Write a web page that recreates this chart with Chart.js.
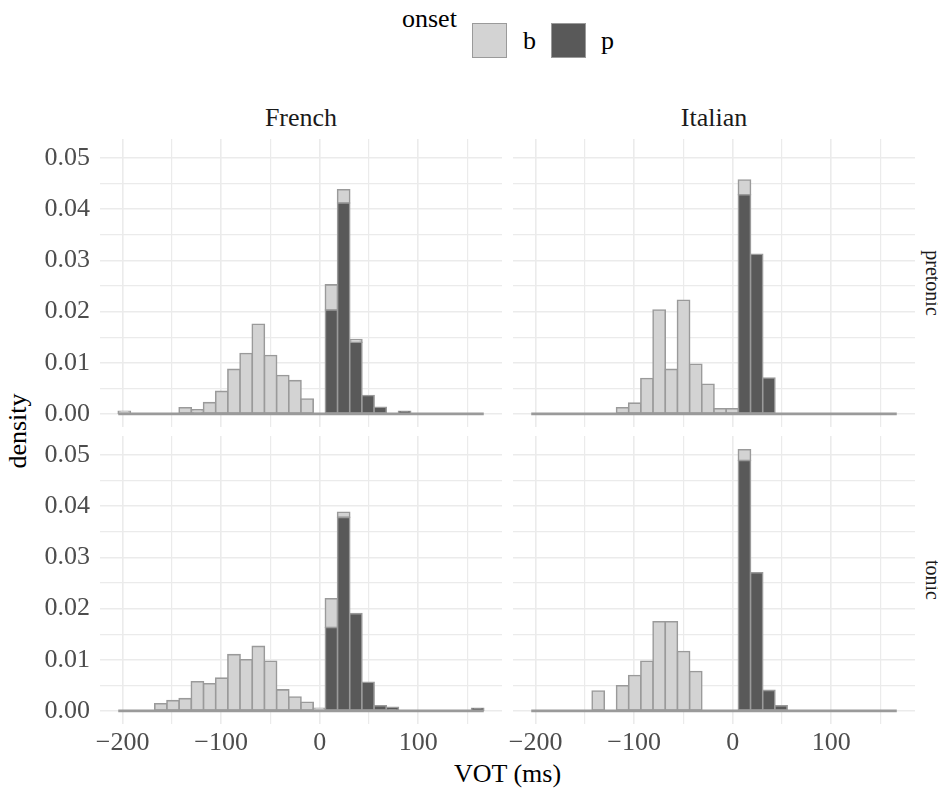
<!DOCTYPE html>
<html>
<head>
<meta charset="utf-8">
<script src="https://cdn.jsdelivr.net/npm/chart.js@4.4.1/dist/chart.umd.min.js"></script>
<style>
  body{margin:0;background:#fff;font-family:'Liberation Serif','Times New Roman',serif;}
  #wrap{position:relative;width:938px;height:795px;overflow:hidden;background:#fff;}
  canvas{position:absolute;}
  .t{position:absolute;font-size:26px;line-height:26px;white-space:nowrap;color:#1a1a1a;}
  .key{position:absolute;width:33px;height:33px;border:1.6px solid #9a9a9a;}
  .rot{position:absolute;white-space:nowrap;transform:translate(-50%,-50%) rotate(90deg);font-size:20px;line-height:20px;color:#1a1a1a;}
</style>
</head>
<body>
<div id="wrap">
  <div class="t" style="left:402px;top:6px;color:#000">onset</div>
  <div class="key" style="left:472px;top:23px;background:#D3D3D3"></div>
  <div class="t" style="left:523px;top:28px;color:#000">b</div>
  <div class="key" style="left:551px;top:23px;background:#595959"></div>
  <div class="t" style="left:601px;top:28px;color:#000">p</div>

  <div class="t" style="left:100px;top:105px;width:402px;text-align:center">French</div>
  <div class="t" style="left:513px;top:105px;width:402px;text-align:center">Italian</div>
  <div class="rot" style="left:933px;top:283px">pretonic</div>
  <div class="rot" style="left:933px;top:580px">tonic</div>
  <div class="t" style="left:18px;top:431px;transform:translate(-50%,-50%) rotate(-90deg);color:#000">density</div>
  <div class="t" style="left:100px;top:761px;width:815px;text-align:center;color:#000">VOT (ms)</div>

  <canvas id="frPre" width="472" height="288" style="left:30px;top:139px"></canvas>
  <canvas id="itPre" width="412" height="288" style="left:503px;top:139px"></canvas>
  <canvas id="frTon" width="472" height="338" style="left:30px;top:436px"></canvas>
  <canvas id="itTon" width="412" height="338" style="left:503px;top:436px"></canvas>
</div>
<script>
// histogram bins (30 bins, ms) and stacked densities
const binMids = [-198.32, -185.95, -173.58, -161.22, -148.85, -136.49, -124.12, -111.75, -99.39, -87.02,
  -74.65, -62.29, -49.92, -37.55, -25.19, -12.82, -0.46, 11.91, 24.28, 36.64,
  49.01, 61.37, 73.74, 86.11, 98.47, 110.84, 123.20, 135.57, 147.94, 160.30];
const binRange = [-204.5, 166.5];

const frPreB = [0.0005,0,0,0,0,0.0012,0.0008,0.0022,0.0044,0.0087,0.0118,0.0175,0.0114,0.0075,0.0065,0.0029,0,0.0049,0.0026,0.0005,0,0,0,0,0,0,0,0,0,0];
const frPreP = [0,0,0,0,0,0,0,0,0,0,0,0,0,0,0,0,0,0.0203,0.0412,0.0140,0.0036,0.0013,0,0.0005,0,0,0,0,0,0];
const itPreB = [0,0,0,0,0,0,0,0.0012,0.0021,0.0069,0.0203,0.0087,0.0222,0.0097,0.0058,0.0010,0.0010,0.0029,0,0,0,0,0,0,0,0,0,0,0,0];
const itPreP = [0,0,0,0,0,0,0,0,0,0,0,0,0,0,0,0,0,0.0428,0.0312,0.0070,0,0,0,0,0,0,0,0,0,0];
const frTonB = [0,0,0,0.0014,0.0020,0.0024,0.0057,0.0053,0.0064,0.0110,0.0100,0.0126,0.0097,0.0041,0.0027,0.0017,0.0005,0.0056,0.0010,0,0,0,0,0,0,0,0,0,0,0];
const frTonP = [0,0,0,0,0,0,0,0,0,0,0,0,0,0,0,0,0,0.0163,0.0378,0.0190,0.0056,0.0010,0.0007,0,0,0,0,0,0,0.0005];
const itTonB = [0,0,0,0,0,0.0039,0,0.0049,0.0069,0.0097,0.0174,0.0174,0.0116,0.0077,0,0,0,0.0021,0,0,0,0,0,0,0,0,0,0,0,0];
const itTonP = [0,0,0,0,0,0,0,0,0,0,0,0,0,0,0,0,0,0.0489,0.0270,0.0040,0.0010,0,0,0,0,0,0,0,0,0];

const xTicks = [-200, -150, -100, -50, 0, 50, 100, 150];
const xTickLabels = ['\u2212200', '', '\u2212100', '', '0', '', '100', ''];
const yTicks = [0, 0.005, 0.01, 0.015, 0.02, 0.025, 0.03, 0.035, 0.04, 0.045, 0.05];
const yTickLabels = ['0.00', '', '0.01', '', '0.02', '', '0.03', '', '0.04', '', '0.05'];

const edge = '#9a9a9a';
const gridCol = '#EBEBEB';

Chart.defaults.font.family = "'Liberation Serif', 'Times New Roman', serif";
Chart.defaults.font.size = 26;
Chart.defaults.color = '#4D4D4D';

function panel(id, bVals, pVals, showY, showX, yWidth, xHeight){
  const pts = vals => binMids.map((x, i) => ({x, y: vals[i]}));
  const bars = (label, vals, fill) => ({
    type:'bar', label, data: pts(vals),
    backgroundColor: c => (c.raw && c.raw.y === 0) ? edge : fill,
    borderColor: edge, borderWidth:1.6, borderSkipped:false, inflateAmount:0.8,
    barPercentage:1, categoryPercentage:1, grouped:false, order:1
  });
  new Chart(document.getElementById(id), {
    type:'bar',
    data:{datasets:[
      bars('p', pVals, '#595959'),
      bars('b', bVals, '#D3D3D3'),
      {type:'line', data: binRange.map(x => ({x, y:0})), borderColor: edge, borderWidth:2.6, pointRadius:0, fill:false, order:0}
    ]},
    options:{
      responsive:false, animation:false, devicePixelRatio:1,
      layout:{padding:0, autoPadding:false},
      plugins:{legend:{display:false}, tooltip:{enabled:false}},
      scales:{
        x:{
          type:'linear', min:-223, max:185, offset:false,
          grid:{color:gridCol, lineWidth: c => c.index % 2 ? 1.2 : 1.6, drawTicks:false, offset:false},
          border:{display:false},
          afterBuildTicks: s => { s.ticks = xTicks.map(v => ({value:v})); },
          ticks:{display:showX, autoSkip:false, maxRotation:0, padding:4, callback:(v, i) => xTickLabels[i]},
          afterFit: s => { s.height = xHeight; s.paddingLeft = 0; s.paddingRight = 0; }
        },
        y:{
          type:'linear', stacked:true, min:-0.00256, max:0.0537,
          grid:{color:gridCol, lineWidth: c => c.index % 2 ? 1.2 : 1.6, drawTicks:false},
          border:{display:false},
          afterBuildTicks: s => { s.ticks = yTicks.map(v => ({value:v})); },
          ticks:{display:showY, autoSkip:false, padding:10, callback:(v, i) => yTickLabels[i]},
          afterFit: s => { s.width = yWidth; s.paddingTop = 0; s.paddingBottom = 0; }
        }
      }
    }
  });
}

panel('frPre', frPreB, frPreP, true, false, 70, 0);
panel('itPre', itPreB, itPreP, false, false, 10, 0);
panel('frTon', frTonB, frTonP, true, true, 70, 50);
panel('itTon', itTonB, itTonP, false, true, 10, 50);
</script>
</body>
</html>
